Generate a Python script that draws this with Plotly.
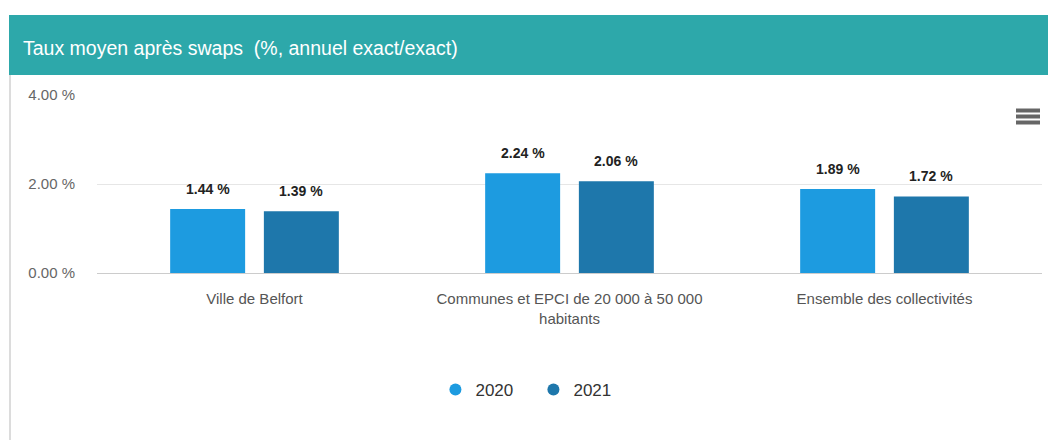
import plotly.graph_objects as go

# Chart data
categories = [
    "Ville de Belfort",
    "Communes et EPCI de 20 000 à 50 000<br>habitants",
    "Ensemble des collectivités",
]
years = ["2020", "2021"]
rates_2020 = [1.44, 2.24, 1.89]
rates_2021 = [1.39, 2.06, 1.72]
y_ticks = [0, 2, 4]
y_tick_labels = ["0.00 %", "2.00 %", "4.00 %"]

colors = {"2020": "#1d9be0", "2021": "#1e77ab"}
series = {"2020": rates_2020, "2021": rates_2021}

W, H = 1048, 440
L, R, T, B = 97, 6, 95, 167
PW, PH = W - L - R, H - T - B
BARGAP, GROUPGAP = 0.405, 0.2


def px_x(p):
    return (p - L) / PW


def px_y(p):
    return (H - B - p) / PH


FONT = "Liberation Sans, Arial, sans-serif"

fig = go.Figure()
slot_px = (1 - BARGAP) * PW / len(categories) / len(years)
annotations = []
for i, yr in enumerate(years):
    fig.add_trace(go.Bar(
        x=categories,
        y=series[yr],
        name=yr,
        marker=dict(color=colors[yr], line=dict(width=0)),
        showlegend=False,
    ))
    # value labels above each bar
    shift = (i - (len(years) - 1) / 2) * slot_px
    for cat, v in zip(categories, series[yr]):
        annotations.append(dict(
            x=cat, y=v, xref="x", yref="y", text=f"<b>{v:.2f} %</b>",
            showarrow=False, xanchor="center", yanchor="bottom",
            xshift=shift, yshift=10,
            font=dict(family=FONT, size=14, color="#222222"),
        ))
    # legend entry with a round symbol
    fig.add_trace(go.Scatter(
        x=[None], y=[None], mode="markers", name=yr,
        marker=dict(color=colors[yr], size=15, symbol="circle"),
        showlegend=True,
    ))

shapes = [
    # header band
    dict(type="rect", xref="paper", yref="paper",
         x0=px_x(9), x1=px_x(1049), y0=px_y(75), y1=px_y(15),
         fillcolor="#2da8aa", line=dict(width=0), layer="below"),
    # panel left border
    dict(type="line", xref="paper", yref="paper",
         x0=px_x(10), x1=px_x(10), y0=px_y(75), y1=px_y(441),
         line=dict(color="#d0d0d0", width=1.5)),
]
# export menu icon
for yy in (110, 116, 122):
    shapes.append(dict(type="rect", xref="paper", yref="paper",
                       x0=px_x(1016), x1=px_x(1040), y0=px_y(yy + 2.5), y1=px_y(yy - 1.5),
                       fillcolor="#666666", line=dict(width=0)))

annotations.append(dict(
    text="Taux moyen après swaps  (%, annuel exact/exact)",
    xref="paper", yref="paper", x=px_x(21), y=px_y(48),
    xanchor="left", yanchor="middle", showarrow=False,
    font=dict(family=FONT, size=19.5, color="white"),
))

fig.update_layout(
    width=W, height=H,
    margin=dict(l=L, r=R, t=T, b=B),
    paper_bgcolor="white", plot_bgcolor="white",
    barmode="group", bargap=BARGAP, bargroupgap=GROUPGAP,
    font=dict(family=FONT, color="#555555"),
    shapes=shapes,
    annotations=annotations,
    legend=dict(
        orientation="h", xref="container", yref="container",
        x=0.509, xanchor="center", y=(H - 390) / H, yanchor="middle",
        font=dict(family=FONT, size=17, color="#333333"),
        itemsizing="constant", entrywidth=53,
    ),
    xaxis=dict(
        showgrid=False, showline=True, linecolor="#cccccc", linewidth=1,
        ticks="", ticklabelstandoff=12,
        tickfont=dict(family=FONT, size=15, color="#555555"),
        fixedrange=True,
    ),
    yaxis=dict(
        range=[0, 4], tickvals=y_ticks, ticktext=y_tick_labels,
        showgrid=True, gridcolor="#e6e6e6", gridwidth=1,
        zeroline=False, ticks="", ticklabelstandoff=21,
        tickfont=dict(family=FONT, size=15, color="#666666"),
        fixedrange=True,
    ),
)

fig.write_html("out.html")
